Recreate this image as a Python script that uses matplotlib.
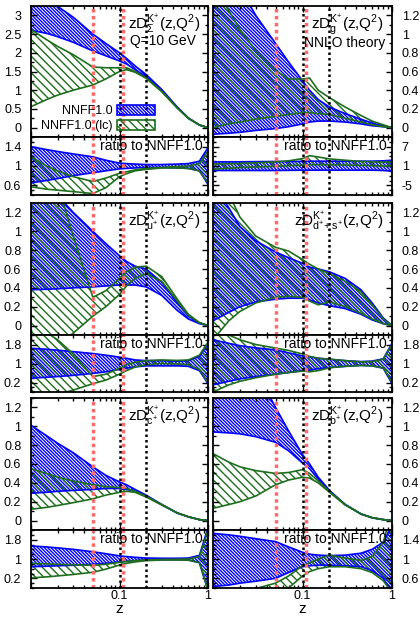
import numpy as np
import matplotlib
matplotlib.use("Agg")
import matplotlib.pyplot as plt
from matplotlib.patches import Patch
from matplotlib.ticker import AutoMinorLocator, LogLocator, NullFormatter, FuncFormatter

plt.rcParams['font.family'] = ['Liberation Sans', 'DejaVu Sans']
plt.rcParams['mathtext.fontset'] = 'custom'
plt.rcParams['mathtext.rm'] = 'Liberation Sans'
plt.rcParams['mathtext.it'] = 'Liberation Sans:italic'
plt.rcParams['hatch.linewidth'] = 1.0
plt.rcParams['axes.unicode_minus'] = False

# z grid (log spaced reading points)
Z = [0.01, 0.015, 0.02, 0.03, 0.05, 0.07, 0.1, 0.12, 0.15, 0.2, 0.3, 0.45, 0.6, 0.8, 1.0]

# --- Sigma ---
sig_nn_hi = [4.2, 3.7, 3.24, 2.95, 2.5, 2.25, 2.0, 1.85, 1.65, 1.42, 1.02, 0.55, 0.26, 0.07, 0.0]
sig_nn_lo = [2.6, 2.52, 2.43, 2.28, 2.05, 1.92, 1.78, 1.7, 1.55, 1.36, 0.99, 0.53, 0.25, 0.07, 0.0]
sig_lc_hi = [2.62, 2.35, 2.17, 1.95, 1.62, 1.6, 1.6, 1.6, 1.5, 1.33, 0.97, 0.53, 0.25, 0.07, 0.0]
sig_lc_lo = [0.56, 0.75, 0.87, 1.0, 1.14, 1.3, 1.5, 1.55, 1.48, 1.32, 0.96, 0.52, 0.25, 0.07, 0.0]
sig_rnn_hi = [1.40, 1.34, 1.3, 1.25, 1.19, 1.12, 1.06, 1.05, 1.04, 1.03, 1.03, 1.04, 1.05, 1.1, 1.38]
sig_rnn_lo = [0.65, 0.7, 0.74, 0.8, 0.86, 0.9, 0.94, 0.95, 0.96, 0.97, 0.97, 0.96, 0.95, 0.9, 0.62]
sig_rlc_hi = [1.19, 1.0, 0.9, 0.78, 0.68, 0.75, 0.85, 0.88, 0.92, 0.95, 0.97, 0.99, 1.0, 1.05, 1.3]
sig_rlc_lo = [0.57, 0.52, 0.5, 0.47, 0.43, 0.55, 0.78, 0.84, 0.9, 0.93, 0.96, 0.96, 0.95, 0.9, 0.65]

# --- gluon ---
glu_nn_hi = [2.2, 1.75, 1.5, 1.2, 0.9, 0.7, 0.5, 0.4, 0.3, 0.22, 0.15, 0.09, 0.05, 0.02, 0.0]
glu_nn_lo = [-0.07, -0.06, -0.05, -0.03, -0.01, 0.01, 0.04, 0.06, 0.07, 0.07, 0.06, 0.04, 0.02, 0.01, 0.0]
glu_lc_hi = [1.6, 1.25, 1.05, 0.82, 0.61, 0.52, 0.52, 0.53, 0.4, 0.32, 0.22, 0.13, 0.07, 0.03, 0.0]
glu_lc_lo = [0.0, 0.04, 0.06, 0.09, 0.12, 0.14, 0.16, 0.16, 0.15, 0.14, 0.1, 0.06, 0.03, 0.01, 0.0]
glu_rnn_hi = [2.3, 2.3, 2.3, 2.35, 2.4, 2.4, 2.45, 2.5, 2.5, 2.5, 2.5, 2.5, 2.5, 2.6, 2.8]
glu_rnn_lo = [-0.4, -0.4, -0.4, -0.4, -0.4, -0.35, -0.3, -0.3, -0.3, -0.3, -0.3, -0.3, -0.3, -0.4, -0.6]
glu_rlc_hi = [1.6, 1.7, 1.8, 2.0, 2.3, 2.6, 3.3, 4.2, 3.8, 3.2, 2.8, 2.4, 2.3, 2.2, 2.2]
glu_rlc_lo = [0.0, 0.3, 0.5, 0.7, 0.9, 1.1, 1.3, 1.4, 1.4, 1.4, 1.3, 1.2, 1.1, 1.0, 1.0]

# --- u+ ---
up_nn_hi = [1.6, 1.5, 1.38, 1.2, 1.0, 0.87, 0.74, 0.68, 0.63, 0.6, 0.46, 0.24, 0.1, 0.03, 0.0]
up_nn_lo = [0.38, 0.385, 0.39, 0.4, 0.41, 0.42, 0.43, 0.43, 0.43, 0.41, 0.32, 0.16, 0.07, 0.02, 0.0]
up_lc_hi = [2.2, 1.9, 1.5, 0.95, 0.3, 0.37, 0.5, 0.57, 0.62, 0.63, 0.52, 0.28, 0.12, 0.03, 0.0]
up_lc_lo = [-0.4, -0.3, -0.2, -0.08, 0.1, 0.2, 0.33, 0.42, 0.5, 0.55, 0.47, 0.26, 0.11, 0.03, 0.0]
up_rnn_hi = [1.64, 1.6, 1.56, 1.5, 1.42, 1.35, 1.27, 1.22, 1.15, 1.12, 1.12, 1.1, 1.12, 1.3, 1.85]
up_rnn_lo = [0.38, 0.42, 0.45, 0.5, 0.58, 0.65, 0.75, 0.8, 0.86, 0.9, 0.9, 0.9, 0.88, 0.7, 0.15]
up_rlc_hi = [2.6, 2.3, 2.0, 1.4, 0.45, 0.55, 0.8, 0.95, 1.05, 1.12, 1.15, 1.13, 1.15, 1.35, 1.9]
up_rlc_lo = [-0.6, -0.45, -0.3, -0.12, 0.15, 0.3, 0.55, 0.7, 0.85, 0.95, 1.0, 0.98, 0.95, 0.75, 0.2]

# --- d+ + s+ ---
ds_nn_hi = [1.5, 1.25, 1.05, 0.9, 0.78, 0.72, 0.66, 0.62, 0.6, 0.57, 0.5, 0.38, 0.24, 0.08, 0.0]
ds_nn_lo = [0.05, 0.14, 0.2, 0.25, 0.28, 0.29, 0.29, 0.27, 0.24, 0.21, 0.18, 0.12, 0.06, 0.02, 0.0]
ds_lc_hi = [1.8, 1.4, 1.15, 0.95, 0.83, 0.79, 0.7, 0.65, 0.6, 0.55, 0.47, 0.36, 0.22, 0.07, 0.0]
ds_lc_lo = [-0.15, 0.05, 0.15, 0.24, 0.3, 0.31, 0.3, 0.26, 0.22, 0.25, 0.2, 0.13, 0.07, 0.02, 0.0]
ds_rnn_hi = [2.0, 1.85, 1.75, 1.66, 1.57, 1.45, 1.32, 1.28, 1.22, 1.18, 1.12, 1.08, 1.1, 1.2, 1.85]
ds_rnn_lo = [0.1, 0.25, 0.35, 0.45, 0.55, 0.62, 0.7, 0.72, 0.78, 0.83, 0.88, 0.92, 0.9, 0.8, 0.15]
ds_rlc_hi = [2.4, 2.2, 2.0, 1.8, 1.65, 1.55, 1.4, 1.3, 1.22, 1.18, 1.12, 1.07, 1.08, 1.18, 1.8]
ds_rlc_lo = [-0.2, 0.1, 0.25, 0.4, 0.55, 0.62, 0.68, 0.65, 0.7, 0.82, 0.88, 0.92, 0.9, 0.82, 0.2]

# --- c+ ---
cp_nn_hi = [1.01, 0.9, 0.82, 0.72, 0.57, 0.48, 0.41, 0.38, 0.33, 0.27, 0.17, 0.08, 0.04, 0.01, 0.0]
cp_nn_lo = [0.29, 0.3, 0.31, 0.32, 0.33, 0.34, 0.34, 0.33, 0.31, 0.26, 0.17, 0.08, 0.04, 0.01, 0.0]
cp_lc_hi = [0.55, 0.5, 0.46, 0.42, 0.38, 0.36, 0.35, 0.34, 0.31, 0.26, 0.17, 0.08, 0.04, 0.01, 0.0]
cp_lc_lo = [0.12, 0.14, 0.16, 0.19, 0.23, 0.27, 0.3, 0.31, 0.3, 0.25, 0.165, 0.08, 0.04, 0.01, 0.0]
cp_rnn_hi = [1.54, 1.5, 1.46, 1.4, 1.3, 1.22, 1.13, 1.1, 1.07, 1.04, 1.03, 1.03, 1.04, 1.15, 2.3]
cp_rnn_lo = [0.68, 0.7, 0.72, 0.74, 0.78, 0.82, 0.88, 0.9, 0.93, 0.96, 0.97, 0.97, 0.96, 0.85, -0.3]
cp_rlc_hi = [0.82, 0.8, 0.78, 0.76, 0.74, 0.78, 0.86, 0.9, 0.93, 0.96, 0.98, 0.99, 1.0, 1.1, 2.2]
cp_rlc_lo = [0.22, 0.26, 0.3, 0.36, 0.45, 0.58, 0.75, 0.82, 0.88, 0.93, 0.96, 0.96, 0.95, 0.85, -0.3]

# --- b+ ---
bp_nn_hi = [2.2, 2.0, 1.85, 1.6, 1.2, 0.95, 0.7, 0.6, 0.46, 0.32, 0.17, 0.07, 0.03, 0.01, 0.0]
bp_nn_lo = [0.94, 0.93, 0.92, 0.89, 0.83, 0.74, 0.61, 0.55, 0.44, 0.31, 0.17, 0.07, 0.03, 0.01, 0.0]
bp_lc_hi = [0.71, 0.62, 0.57, 0.53, 0.5, 0.51, 0.54, 0.5, 0.42, 0.31, 0.17, 0.07, 0.03, 0.01, 0.0]
bp_lc_lo = [0.13, 0.17, 0.2, 0.26, 0.38, 0.43, 0.46, 0.45, 0.4, 0.3, 0.165, 0.07, 0.03, 0.01, 0.0]
bp_rnn_hi = [1.53, 1.5, 1.47, 1.42, 1.36, 1.25, 1.14, 1.1, 1.08, 1.07, 1.08, 1.12, 1.2, 1.35, 1.7]
bp_rnn_lo = [0.43, 0.46, 0.5, 0.54, 0.6, 0.72, 0.84, 0.86, 0.87, 0.87, 0.86, 0.84, 0.76, 0.6, 0.3]
bp_rlc_hi = [0.3, 0.33, 0.36, 0.39, 0.5, 0.65, 0.86, 0.92, 1.0, 1.08, 1.02, 0.97, 1.05, 1.35, 2.0]
bp_rlc_lo = [0.1, 0.12, 0.14, 0.18, 0.25, 0.4, 0.65, 0.74, 0.8, 0.84, 0.84, 0.8, 0.72, 0.55, 0.3]

labels = [r'zD$^{\mathrm{K}^{+}}_{\Sigma}$(z,Q$^2$)',
          r'zD$^{\mathrm{K}^{+}}_{\mathrm{g}}$(z,Q$^2$)',
          r'zD$^{\mathrm{K}^{+}}_{\mathrm{u}^{+}}$(z,Q$^2$)',
          r'zD$^{\mathrm{K}^{+}}_{\mathrm{d}^{+}\!+\mathrm{s}^{+}}$(z,Q$^2$)',
          r'zD$^{\mathrm{K}^{+}}_{\mathrm{c}^{+}}$(z,Q$^2$)',
          r'zD$^{\mathrm{K}^{+}}_{\mathrm{b}^{+}}$(z,Q$^2$)']

panels = [
    (sig_nn_lo, sig_nn_hi, sig_lc_lo, sig_lc_hi, sig_rnn_lo, sig_rnn_hi, sig_rlc_lo, sig_rlc_hi),
    (glu_nn_lo, glu_nn_hi, glu_lc_lo, glu_lc_hi, glu_rnn_lo, glu_rnn_hi, glu_rlc_lo, glu_rlc_hi),
    (up_nn_lo, up_nn_hi, up_lc_lo, up_lc_hi, up_rnn_lo, up_rnn_hi, up_rlc_lo, up_rlc_hi),
    (ds_nn_lo, ds_nn_hi, ds_lc_lo, ds_lc_hi, ds_rnn_lo, ds_rnn_hi, ds_rlc_lo, ds_rlc_hi),
    (cp_nn_lo, cp_nn_hi, cp_lc_lo, cp_lc_hi, cp_rnn_lo, cp_rnn_hi, cp_rlc_lo, cp_rlc_hi),
    (bp_nn_lo, bp_nn_hi, bp_lc_lo, bp_lc_hi, bp_rnn_lo, bp_rnn_hi, bp_rlc_lo, bp_rlc_hi),
]

# axis ranges / ticks
main_ylim = [(-0.25, 3.25), (-0.1, 1.3), (-0.1, 1.3), (-0.1, 1.3), (-0.1, 1.3), (-0.1, 1.3)]
main_step = [0.5, 0.2, 0.2, 0.2, 0.2, 0.2]
ratio_ylim = [(0.4, 1.6), (-8, 10), (-0.2, 2.2), (-0.2, 2.2), (-0.2, 2.2), (0.4, 1.6)]
ratio_step = [0.4, 6, 0.8, 0.8, 0.8, 0.4]

blue = '#0000ff'
green = '#1e6e1e'
HB = '\\' * 10   # dense hatch for NNFF1.0
HG = '\\' * 4    # looser hatch for (lc)
red_v = [0.05, 0.11]
black_v = [0.1, 0.2]

W, H = 420, 624
fig = plt.figure(figsize=(W / 100, H / 100), dpi=100)

cols = [(31, 177), (213, 179)]
rows = [(6, 137, 195), (203, 335, 392), (398, 530, 588)]
fmt = FuncFormatter(lambda v, p: f'{v:g}')

def style(ax, col, bottom_labels):
    ax.set_xscale('log')
    ax.set_xlim(0.01, 1)
    ax.set_xticks([0.01, 0.1, 1])
    ax.set_xticklabels(['', '0.1', '1'] if bottom_labels else ['', '', ''])
    ax.xaxis.set_minor_locator(LogLocator(base=10, subs=np.arange(2, 10)))
    ax.xaxis.set_minor_formatter(NullFormatter())
    ax.yaxis.set_major_formatter(fmt)
    ax.tick_params(which='both', direction='in', top=True, right=True, width=1,
                   labelsize=9, labelleft=(col == 0), labelright=(col == 1))
    ax.tick_params(which='major', length=4)
    ax.tick_params(which='minor', length=2)
    ax.tick_params(axis='y', pad=7)
    ax.tick_params(axis='x', pad=1.5)
    for s in ax.spines.values():
        s.set_linewidth(1.3)

def bands(ax, nlo, nhi, llo, lhi):
    ax.fill_between(Z, nlo, nhi, facecolor='none', edgecolor=blue, hatch=HB, lw=0)
    ax.plot(Z, nlo, color=blue, lw=1.2)
    ax.plot(Z, nhi, color=blue, lw=1.2)
    ax.fill_between(Z, llo, lhi, facecolor='none', edgecolor=green, hatch=HG, lw=0)
    ax.plot(Z, llo, color=green, lw=1.2)
    ax.plot(Z, lhi, color=green, lw=1.2)
    for v in red_v:
        ax.axvline(v, color='#ff6a6a', ls=(0, (1, 1)), lw=2.5)
    for v in black_v:
        ax.axvline(v, color='black', ls=(0, (1, 1.2)), lw=1.8)

for i, d in enumerate(panels):
    r, c = divmod(i, 2)
    x0, w = cols[c]
    top, mid, bot = rows[r]
    axm = fig.add_axes([x0 / W, 1 - mid / H, w / W, (mid - top) / H])
    axr = fig.add_axes([x0 / W, 1 - bot / H, w / W, (bot - mid) / H])

    bands(axm, d[0], d[1], d[2], d[3])
    bands(axr, d[4], d[5], d[6], d[7])

    style(axm, c, False)
    style(axr, c, r == 2)
    axm.set_ylim(*main_ylim[i])
    axm.set_yticks(np.arange(0, main_ylim[i][1], main_step[i]))
    axr.set_ylim(*ratio_ylim[i])
    axr.set_yticks([1 - ratio_step[i], 1, 1 + ratio_step[i]])
    axm.yaxis.set_minor_locator(AutoMinorLocator(2))
    axr.yaxis.set_minor_locator(AutoMinorLocator(4))

    axm.text(0.955, 0.95, labels[i], transform=axm.transAxes, ha='right', va='top', fontsize=11)
    axr.text(0.97, 0.84, 'ratio to NNFF1.0', transform=axr.transAxes, ha='right', va='center', fontsize=10)

    if i == 0:
        axm.text(0.93, 0.73, 'Q=10 GeV', transform=axm.transAxes, ha='right', va='center', fontsize=10)
        handles = [Patch(facecolor='none', edgecolor=blue, hatch=HB, lw=1.2, label='NNFF1.0'),
                   Patch(facecolor='none', edgecolor=green, hatch=HG, lw=1.2, label='NNFF1.0 (lc)')]
        axm.legend(handles=handles, loc='lower right', bbox_to_anchor=(0.70, 0.035),
                   markerfirst=False, frameon=False, fontsize=9, handlelength=3.0,
                   handleheight=0.9, labelspacing=0.2, borderpad=0, borderaxespad=0,
                   handletextpad=0.4)
    if i == 1:
        axm.text(0.96, 0.715, 'NNLO theory', transform=axm.transAxes, ha='right', va='center', fontsize=10)

fig.text(119 / W, 1 - 609 / H, 'z', ha='center', va='center', fontsize=11)
fig.text(302 / W, 1 - 609 / H, 'z', ha='center', va='center', fontsize=11)

fig.savefig('out.png', dpi=100)
